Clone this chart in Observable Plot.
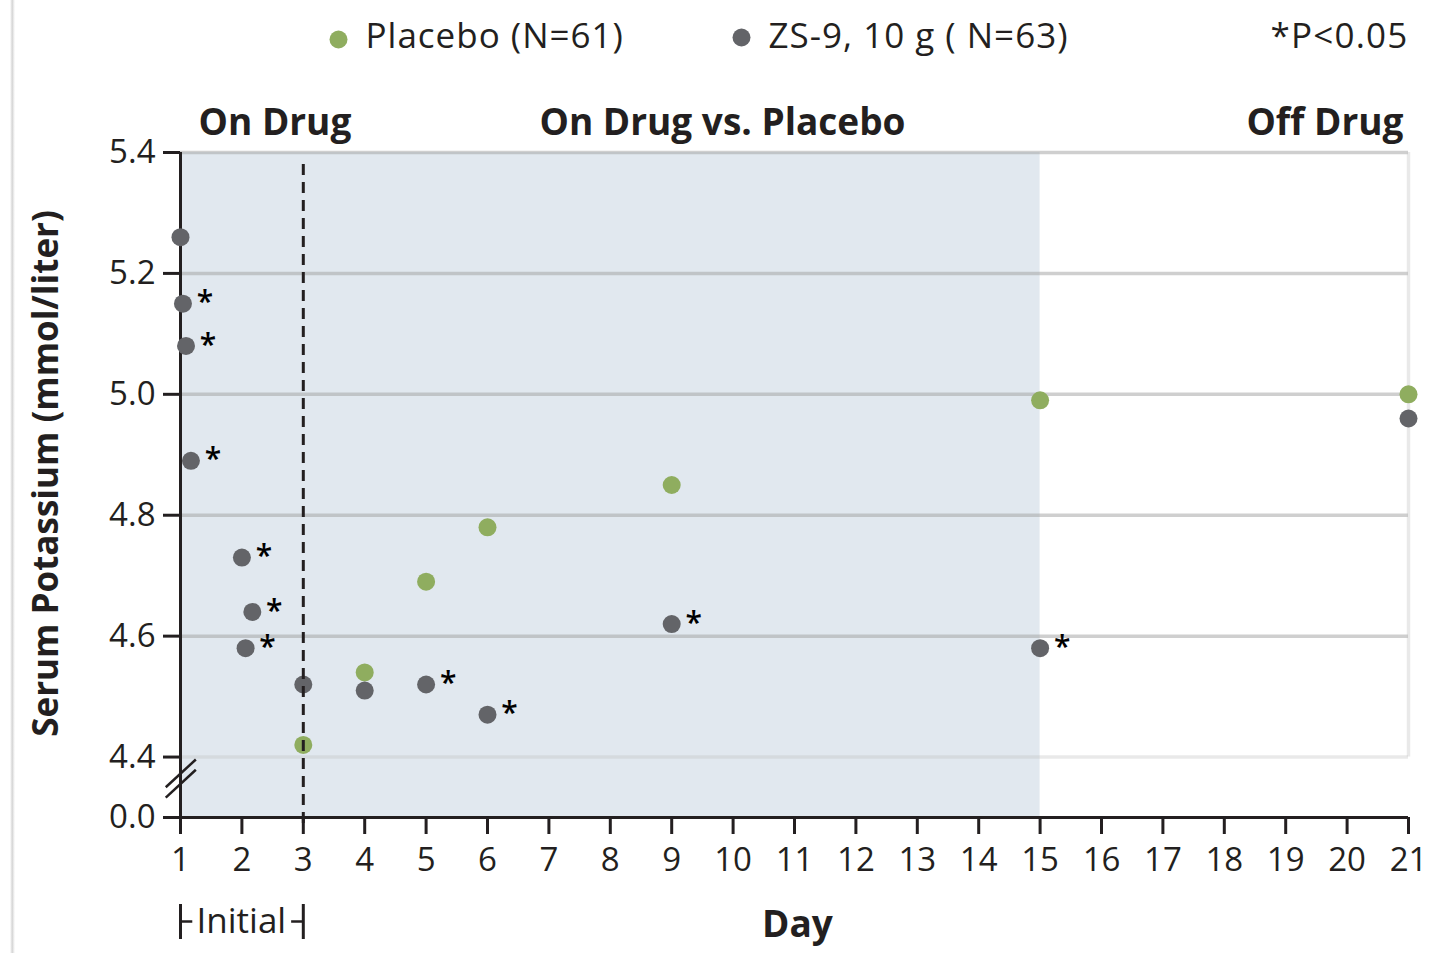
<!DOCTYPE html>
<html>
<head>
<meta charset="utf-8">
<script src="https://cdn.jsdelivr.net/npm/d3@7"></script>
<script src="https://cdn.jsdelivr.net/npm/@observablehq/plot@0.6"></script>
<style>
  body { margin: 0; background: #fff; }
  #wrap { position: relative; width: 1437px; height: 953px; overflow: hidden; }
  #wrap svg { position: absolute; left: 0; top: 0; }
  #edge { position: absolute; left: 10px; top: 0; width: 5px; height: 953px;
          background: linear-gradient(to right, #fff, #d4d4d4 45%, #e6e6e6 65%, #fff); z-index: 2; }
</style>
</head>
<body>
<div id="wrap"><div id="edge"></div></div>
<script>
// ---- data ----
const seriesNames = ["Placebo", "ZS-9, 10 g"];
const seriesColors = ["#8fad5f", "#636468"];
const legendLabels = ["Placebo (N=61)", "ZS-9, 10 g ( N=63)"];

const zsDay = [1.0, 1.04, 1.09, 1.17, 2.0, 2.17, 2.06, 3, 4, 5, 6, 9, 15, 21];
const zsK   = [5.26, 5.15, 5.08, 4.89, 4.73, 4.64, 4.58, 4.52, 4.51, 4.52, 4.47, 4.62, 4.58, 4.96];
const zsSig = [false, true, true, true, true, true, true, false, false, true, true, true, true, false];

const placeboDay = [3, 4, 5, 6, 9, 15, 21];
const placeboK   = [4.42, 4.54, 4.69, 4.78, 4.85, 4.99, 5.00];

const xTicks = d3.range(1, 22);
const yTicks = [4.3, 4.4, 4.6, 4.8, 5.0, 5.2, 5.4];
const yTickLabels = ["0.0", "4.4", "4.6", "4.8", "5.0", "5.2", "5.4"];
const gridValues = [4.6, 4.8, 5.0, 5.2, 5.4];
const breakValue = 4.3;       // axis break: 0.0 drawn just below 4.4
const onDrugEnd = 15;         // shaded "on drug" period: day 1 to day 15
const initialEnd = 3;         // initial phase: day 1 to day 3
const periodTitles = ["On Drug", "On Drug vs. Placebo", "Off Drug"];
const sigNote = "*P<0.05";

const zs = zsDay.map((d, i) => ({day: d, k: zsK[i], sig: zsSig[i], series: seriesNames[1]}));
const placebo = placeboDay.map((d, i) => ({day: d, k: placeboK[i], series: seriesNames[0]}));

const ink = "#231f20";
const font = "'Open Sans', sans-serif";
const mid = {lineAnchor: "middle"};

const chart = Plot.plot({
  width: 1437,
  height: 953,
  marginLeft: 180,
  marginRight: 29,
  marginTop: 152,
  marginBottom: 136,
  style: {fontFamily: font, background: "transparent", color: ink, overflow: "visible"},
  x: {domain: [1, 21], axis: null},
  y: {domain: [breakValue, 5.4], axis: null},
  color: {domain: seriesNames, range: seriesColors},
  marks: [
    // shaded on-drug period
    Plot.rect([{start: 1, end: onDrugEnd}], {x1: "start", x2: "end", y1: breakValue, y2: 5.4, fill: "#e1e8ef"}),
    // grid lines
    Plot.ruleY(gridValues, {x1: 1, x2: 21, stroke: "#a0a0a0", strokeOpacity: 0.5, strokeWidth: 3.5}),
    Plot.ruleY([4.4], {x1: 1, x2: 21, stroke: "#c0c0c0", strokeOpacity: 0.35, strokeWidth: 3.5}),
    Plot.ruleX([21], {y1: 4.4, y2: 5.4, stroke: "#c0c0c0", strokeOpacity: 0.35, strokeWidth: 3.5}),
    // axes
    Plot.axisY(yTicks, {tickSize: 17, tickPadding: 8, fontSize: 33, strokeWidth: 3, stroke: ink,
      tickFormat: (d) => yTickLabels[yTicks.indexOf(d)], label: null}),
    Plot.axisX(xTicks, {tickSize: 17, tickPadding: 13, fontSize: 33, strokeWidth: 3, stroke: ink, label: null}),
    Plot.ruleX([1], {y1: breakValue, y2: 5.4, stroke: ink, strokeWidth: 3}),
    Plot.ruleY([breakValue], {x1: 1, x2: 21, stroke: ink, strokeWidth: 3}),
    // axis break marks
    Plot.link([4.333, 4.350], {x1: 0.76, x2: 1.25, y1: d => d, y2: d => d + 0.046, stroke: ink, strokeWidth: 2.5}),
    // data points
    Plot.dot(placebo, {x: "day", y: "k", fill: "series", r: 9}),
    Plot.dot(zs, {x: "day", y: "k", fill: "series", r: 9}),
    Plot.text(zs.filter(d => d.sig), {x: "day", y: "k", text: () => "*", dx: 22, dy: -1, fontSize: 30, fontWeight: 600, fill: "#000"}),
    // dashed line at end of initial phase
    Plot.ruleX([initialEnd], {y1: breakValue, y2: 5.4, stroke: ink, strokeWidth: 3, strokeDasharray: "11,7", insetTop: 6, insetBottom: -10}),
    // "Initial" bracket
    Plot.ruleX([1, initialEnd], {insetTop: 752, insetBottom: -122, stroke: ink, strokeWidth: 3}),
    Plot.ruleY([breakValue], {x1: 1, x2: 1.2, dy: 104, stroke: ink, strokeWidth: 2.5}),
    Plot.ruleY([breakValue], {x1: initialEnd - 0.19, x2: initialEnd, dy: 104, stroke: ink, strokeWidth: 2.5}),
    Plot.text(["Initial"], {frameAnchor: "bottom-left", ...mid, dx: 16, dy: 104, textAnchor: "start", fontSize: 35, fill: ink}),
    // axis titles
    Plot.text(["Day"], {frameAnchor: "bottom-left", ...mid, dx: 617, dy: 108, textAnchor: "middle", fontSize: 37, fontWeight: "bold", fill: ink}),
    Plot.text(["Serum Potassium (mmol/liter)"], {frameAnchor: "top-left", ...mid, dx: -134, dy: 321, rotate: -90, textAnchor: "middle", fontSize: 35, fontWeight: "bold", fill: ink}),
    // period titles
    Plot.text([periodTitles[0]], {frameAnchor: "top-left", ...mid, dx: 18, dy: -29, textAnchor: "start", fontSize: 37, fontWeight: "bold", fill: ink}),
    Plot.text([periodTitles[1]], {frameAnchor: "top-left", ...mid, dx: 542, dy: -29, textAnchor: "middle", fontSize: 37, fontWeight: "bold", fill: ink}),
    Plot.text([periodTitles[2]], {frameAnchor: "top-right", ...mid, dx: -5, dy: -29, textAnchor: "end", fontSize: 37, fontWeight: "bold", fill: ink}),
    // legend
    Plot.dot([seriesNames[0]], {frameAnchor: "top-left", dx: 158, dy: -113, r: 9, fill: d => d}),
    Plot.text([legendLabels[0]], {frameAnchor: "top-left", ...mid, dx: 185, dy: -116, textAnchor: "start", fontSize: 35, fill: ink}),
    Plot.dot([seriesNames[1]], {frameAnchor: "top-left", dx: 561, dy: -115, r: 9, fill: d => d}),
    Plot.text([legendLabels[1]], {frameAnchor: "top-left", ...mid, dx: 588, dy: -116, textAnchor: "start", fontSize: 35, fill: ink}),
    Plot.text([sigNote], {frameAnchor: "top-right", ...mid, dx: 0, dy: -116, textAnchor: "end", fontSize: 35, fill: ink})
  ]
});
// widen legend text slightly (reference typeface is more open)
d3.select(chart).selectAll("text")
  .filter(function() { return legendLabels.includes(this.textContent) || this.textContent === sigNote; })
  .attr("letter-spacing", function() { return this.textContent === sigNote ? 1.2 : 1.0; });
document.getElementById("wrap").appendChild(chart);
</script>
</body>
</html>
